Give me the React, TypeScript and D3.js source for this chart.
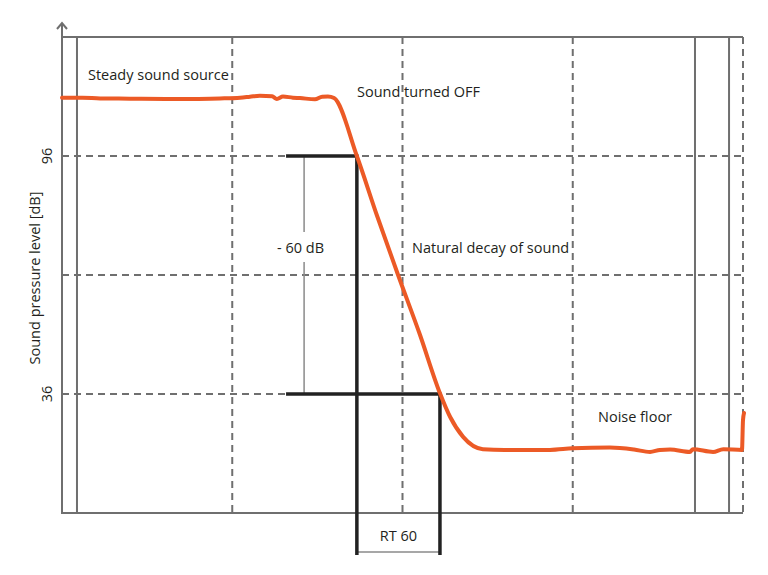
import React from "react";
import * as d3 from "d3";

// time in ms, level in dB
const decayTimes = [0, 60, 112, 200, 317, 400, 464, 523, 552, 581, 617, 631, 649, 678, 699, 743, 764, 781, 799, 866, 925, 987, 1051, 1110, 1140, 1178, 1236, 1300, 1433, 1500, 1609, 1680, 1727, 1756, 1786, 1844, 1853, 1912, 1942, 1997, 2000, 2003];
const decayLevels = [110.7, 110.7, 110.5, 110.45, 110.36, 110.4, 110.5, 110.7, 110.95, 111.2, 111.05, 110.4, 111.0, 110.7, 110.6, 110.3, 110.95, 111.0, 110.6, 96, 81, 66, 51, 36.2, 30.2, 25.2, 22.1, 21.9, 21.9, 22.3, 22.5, 22.0, 21.4, 21.9, 22.0, 21.4, 22.1, 21.4, 22.1, 21.9, 29.4, 31.2];

const dashedX = [500, 1000, 1500, 2000];
const solidX = [44, 1859, 1959];
const dashedY = [96, 66, 36];
const yTickLabels = [96, 36];

const rtStart = 866;
const rtEnd = 1110;
const bracketLeft = 658;
const dbMarkerX = 711;

const W = 768;
const H = 575;

export default function App() {
  const x = d3.scaleLinear().domain([0, 2000]).range([62, 743]);
  const y = d3.scaleLinear().domain([6, 126]).range([513, 37]);
  const pts: [number, number][] = decayTimes.map((t, i) => [t, decayLevels[i]]);
  const line = d3
    .line<[number, number]>()
    .x((d) => x(d[0]))
    .y((d) => y(d[1]))
    .curve(d3.curveMonotoneX);

  const grid = "#6f6f6f";
  const txt = "#231f20";
  const font = "'Open Sans', sans-serif";
  const bracketBottom = y(6) + 40;

  return (
    <svg width={W} height={H} style={{ position: "absolute", left: 0, top: 0 }} fontFamily={font}>
      <rect width={W} height={H} fill="#fff" />
      {/* dashed grid */}
      {dashedX.map((v) => (
        <line key={"dx" + v} x1={x(v)} x2={x(v)} y1={y(126)} y2={y(6)} stroke={grid} strokeWidth={2} strokeDasharray="7,5" />
      ))}
      {dashedY.map((v) => (
        <line key={"dy" + v} x1={x(0)} x2={x(2000)} y1={y(v)} y2={y(v)} stroke={grid} strokeWidth={2} strokeDasharray="7,5" />
      ))}
      {solidX.map((v) => (
        <line key={"sx" + v} x1={x(v)} x2={x(v)} y1={y(126)} y2={y(6)} stroke={grid} strokeWidth={2} />
      ))}
      {/* frame */}
      <line x1={x(0)} x2={x(2000)} y1={y(126)} y2={y(126)} stroke={grid} strokeWidth={2} />
      <line x1={x(0)} x2={x(2000)} y1={y(6)} y2={y(6)} stroke={grid} strokeWidth={2} />
      <line x1={x(0)} x2={x(0)} y1={23} y2={y(6) + 1} stroke={grid} strokeWidth={2} />
      <path d={`M${x(0) - 5},${29} L${x(0)},${23} L${x(0) + 5},${29}`} fill="none" stroke={grid} strokeWidth={2} />

      {/* thin -60 dB marker */}
      <line x1={x(dbMarkerX)} x2={x(dbMarkerX)} y1={y(96)} y2={232} stroke="#8a8a8a" strokeWidth={1.5} />
      <line x1={x(dbMarkerX)} x2={x(dbMarkerX)} y1={262} y2={y(36)} stroke="#8a8a8a" strokeWidth={1.5} />
      <line x1={x(rtStart)} x2={x(rtEnd)} y1={bracketBottom - 1} y2={bracketBottom - 1} stroke="#8a8a8a" strokeWidth={1.5} />

      {/* black bracket */}
      <g stroke="#222" strokeWidth={3.5} fill="none">
        <line x1={x(bracketLeft)} x2={x(rtStart)} y1={y(96)} y2={y(96)} />
        <line x1={x(bracketLeft)} x2={x(rtEnd)} y1={y(36)} y2={y(36)} />
        <line x1={x(rtStart)} x2={x(rtStart)} y1={y(96) - 1.5} y2={bracketBottom + 2} />
        <line x1={x(rtEnd)} x2={x(rtEnd)} y1={y(36) - 1.5} y2={bracketBottom + 2} />
      </g>

      {/* decay curve */}
      <path d={line(pts) || ""} fill="none" stroke="#ec5a26" strokeWidth={4} strokeLinejoin="round" strokeLinecap="round" />

      {/* labels */}
      <g fill={txt} fontSize={14.5}>
        <text x={88} y={80}>Steady sound source</text>
        <text x={357} y={97}>Sound turned OFF</text>
        <text x={412} y={253}>Natural decay of sound</text>
        <text x={277} y={253}>- 60 dB</text>
        <text x={x((rtStart + rtEnd) / 2)} y={541} textAnchor="middle">RT 60</text>
        <text x={598} y={422}>Noise floor</text>
        {yTickLabels.map((v) => (
          <text key={"yt" + v} transform={`translate(52,${y(v)}) rotate(-90)`} textAnchor="middle">{v}</text>
        ))}
        <text transform={`translate(40,${278}) rotate(-90)`} textAnchor="middle">Sound pressure level [dB]</text>
      </g>
    </svg>
  );
}
